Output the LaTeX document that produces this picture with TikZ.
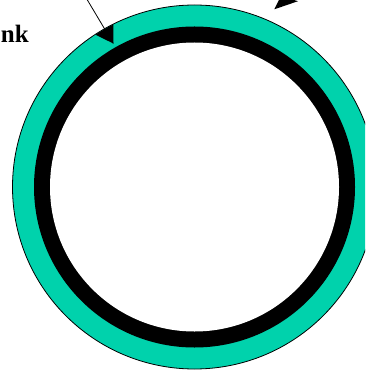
\documentclass[tikz,border=0pt]{standalone}
\usepackage{fontspec}
\setmainfont{Liberation Serif}
\definecolor{ringteal}{RGB}{0,210,172}

\begin{document}
\begin{tikzpicture}[x=1pt,y=-1pt]
\useasboundingbox (0,0) rectangle (365,371);
\clip (0,0) rectangle (365,371);
\coordinate (ctr) at (194.5,187);
% ring
\filldraw[fill=ringteal, draw=black, line width=0.8pt] (ctr) circle (182);
\fill[black] (ctr) circle (160.5);
\fill[white] (ctr) circle (144.5);
% pointer into the ring
\coordinate (lead) at (85,-4);
\coordinate (tip) at (113.3,43.5);
\draw[line width=0.8pt] (lead) -- (tip);
\begin{scope}
\clip (ctr) circle (181.6);
\fill[black] (86,30) -- (tip) -- (113.3,15) -- cycle;
\end{scope}
% arrowhead at top right
\fill[black] (274.3,9.3) -- (281,-4) -- (298,1.2) -- cycle;
% label
\node[anchor=base east, inner sep=0pt, font=\bfseries\fontsize{25}{25}\selectfont] (lbl) at (29,43) {nk};
\end{tikzpicture}
\end{document}
